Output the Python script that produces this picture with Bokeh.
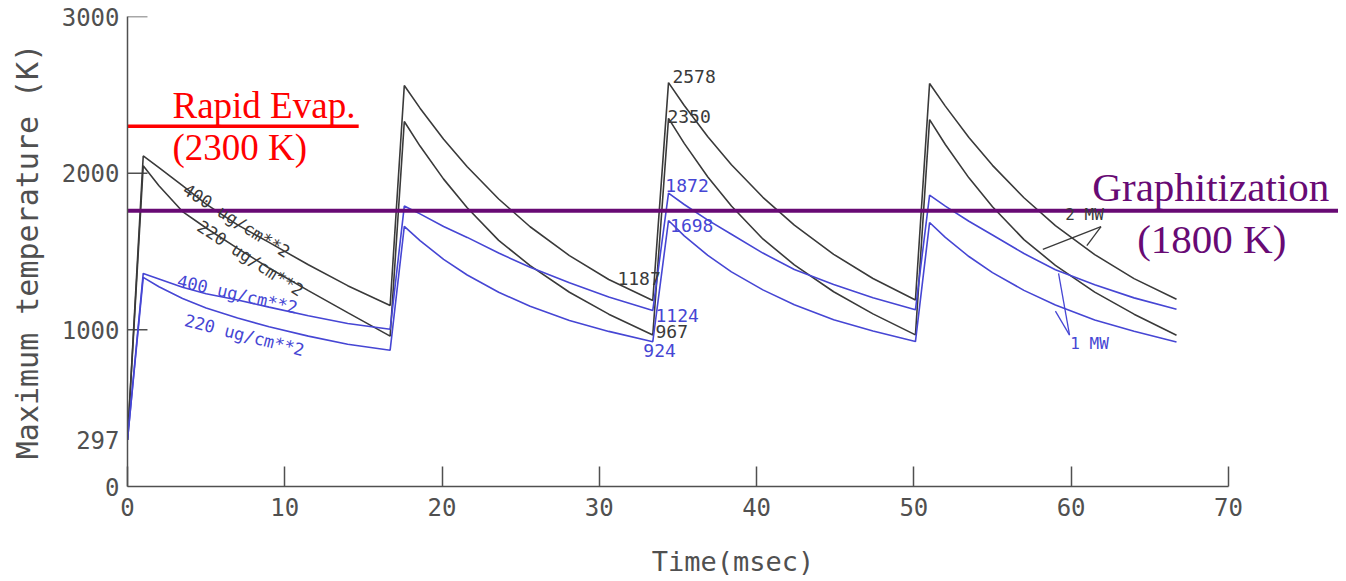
from bokeh.plotting import figure
from bokeh.models import Range1d, FixedTicker
from bokeh.core.properties import value
from bokeh.embed import file_html
from bokeh.resources import INLINE

# ---------------- data ----------------
time_ms = [0.0, 1.0, 2.0, 3.5, 5.0, 7.0, 9.0, 11.5, 14.0, 16.7,
           17.6, 18.6, 20.1, 21.6, 23.6, 25.6, 28.1, 30.6, 33.4,
           34.4, 35.4, 36.9, 38.4, 40.4, 42.4, 44.9, 47.4, 50.1,
           51.0, 52.0, 53.5, 55.0, 57.0, 59.0, 61.5, 64.0, 66.7]

# 2 MW pulses (black)
temp_2mw_400 = [297, 2110, 2035, 1920, 1802, 1670, 1558, 1415, 1282, 1155,
                2560, 2415, 2217, 2041, 1835, 1658, 1474, 1321, 1187,
                2578, 2432, 2232, 2054, 1846, 1668, 1482, 1328, 1190,
                2572, 2428, 2228, 2050, 1843, 1665, 1480, 1327, 1195]
temp_2mw_220 = [297, 2047, 1920, 1755, 1650, 1520, 1395, 1250, 1110, 960,
                2330, 2173, 1962, 1779, 1571, 1410, 1240, 1100, 967,
                2350, 2190, 1975, 1790, 1580, 1415, 1243, 1102, 968,
                2342, 2183, 1970, 1786, 1576, 1412, 1241, 1100, 966]
# 1 MW pulses (blue)
temp_1mw_400 = [297, 1360, 1325, 1272, 1230, 1190, 1145, 1090, 1040, 1004,
                1790, 1740, 1660, 1590, 1490, 1400, 1300, 1210, 1124,
                1872, 1800, 1700, 1610, 1490, 1385, 1290, 1205, 1128,
                1860, 1790, 1693, 1605, 1487, 1383, 1288, 1204, 1131]
temp_1mw_220 = [297, 1335, 1275, 1200, 1140, 1075, 1020, 960, 908, 870,
                1660, 1570, 1450, 1350, 1240, 1150, 1060, 990, 924,
                1698, 1600, 1475, 1370, 1255, 1160, 1065, 993, 925,
                1685, 1590, 1468, 1365, 1252, 1158, 1063, 991, 922]

x_ticks = [0, 10, 20, 30, 40, 50, 60, 70]
y_ticks = [0, 297, 1000, 2000, 3000]
y_tick_marks = [1000, 2000, 3000]   # ticks that carry a mark on the axis

evap_temp = 2300
evap_span = [0, 14.7]
graph_temp = 1760
graph_span = [0, 77]

peak_labels = ["2578", "2350", "1872", "1698"]
valley_labels = ["1187", "1124", "967", "924"]
curve_labels = ["400 ug/cm**2", "220 ug/cm**2", "400 ug/cm**2", "220 ug/cm**2"]
power_labels = ["2 MW", "1 MW"]

# leader lines for the power labels
lead_2mw_x = [[58.2, 61.9], [61.0, 61.9]]
lead_2mw_y = [[1513, 1659], [1538, 1659]]
lead_1mw_x = [[59.2, 59.9], [59.0, 59.9]]
lead_1mw_y = [[1360, 966], [1119, 966]]

# ---------------- styling ----------------
BLACK = "#3a3a3a"
BLUE = "#4646d4"
GRAY = "#505050"
RED = "#ff0000"
PURPLE = "#680a74"
MONO = value("DejaVu Sans Mono")
SERIF = value("Liberation Serif")
TICK_LEN = 1.27   # 20 px in x data units

p = figure(width=1338, height=579, output_backend="svg", toolbar_location=None,
           x_range=Range1d(0, 77), y_range=Range1d(0, 3000),
           min_border_left=127, min_border_right=0, min_border_top=16,
           min_border_bottom=91)
p.grid.visible = False
p.outline_line_color = None
p.background_fill_color = "white"

for ax in (p.xaxis[0], p.yaxis[0]):
    ax.axis_line_color = GRAY
    ax.axis_line_width = 1.5
    ax.major_tick_line_color = GRAY
    ax.major_tick_line_width = 1.5
    ax.major_tick_in = 20
    ax.major_tick_out = 0
    ax.minor_tick_line_color = None
    ax.major_label_text_font = "DejaVu Sans Mono"
    ax.major_label_text_font_size = "24px"
    ax.major_label_text_color = GRAY
    ax.axis_label_text_font = "DejaVu Sans Mono"
    ax.axis_label_text_font_style = "normal"
    ax.axis_label_text_color = GRAY

p.xaxis.ticker = FixedTicker(ticks=x_ticks)
p.xaxis.bounds = (0, 70)
p.xaxis.major_label_standoff = 11
p.xaxis.axis_label = "Time(msec)"
p.xaxis.axis_label_text_font_size = "27px"
p.xaxis.axis_label_standoff = 27

p.yaxis.ticker = FixedTicker(ticks=y_ticks)
p.yaxis.bounds = (0, 3000)
p.yaxis.major_tick_line_color = None
p.yaxis.major_label_standoff = 8
p.yaxis.axis_label = "Maximum temperature (K)"
p.yaxis.axis_label_text_font_size = "30px"
p.yaxis.axis_label_standoff = 14

# y tick marks (no mark at 297)
p.segment(x0=[0] * len(y_tick_marks), y0=y_tick_marks,
          x1=[TICK_LEN] * len(y_tick_marks), y1=y_tick_marks,
          line_color=GRAY, line_width=1.5)

# curves
p.line(time_ms, temp_2mw_400, line_color=BLACK, line_width=1.6)
p.line(time_ms, temp_2mw_220, line_color=BLACK, line_width=1.6)
p.line(time_ms, temp_1mw_400, line_color=BLUE, line_width=1.6)
p.line(time_ms, temp_1mw_220, line_color=BLUE, line_width=1.6)

# threshold lines
p.line(evap_span, [evap_temp, evap_temp], line_color=RED, line_width=3.5)
p.line(graph_span, [graph_temp, graph_temp], line_color=PURPLE, line_width=4)

p.text(x=[2.86, 2.86], y=[2435, 2162], text=["Rapid Evap.", f"({evap_temp} K)"],
       text_font=SERIF, text_font_size="37px", text_color=RED,
       text_align="left", text_baseline="alphabetic")
p.text(x=[61.35, 64.2], y=[1912, 1582], text=["Graphitization", "(1800 K)"],
       text_font=SERIF, text_font_size="41px", text_color=PURPLE,
       text_align="left", text_baseline="alphabetic")

# curve labels (rotated along curves)
p.text(x=[6.93, 7.82], y=[1697, 1456], text=curve_labels[:2], angle=[-0.564, -0.58],
       text_font=MONO, text_font_size="17px", text_color=BLACK,
       text_align="center", text_baseline="middle")
p.text(x=[6.99, 7.44], y=[1227, 966], text=curve_labels[2:], angle=[-0.222, -0.25],
       text_font=MONO, text_font_size="17px", text_color=BLUE,
       text_align="center", text_baseline="middle")

# peak / valley value labels
p.text(x=[34.65, 34.33], y=[2619, 2359], text=peak_labels[:2],
       text_font=MONO, text_font_size="18px", text_color=BLACK,
       text_align="left", text_baseline="middle")
p.text(x=[34.2, 34.5], y=[1920, 1666], text=peak_labels[2:],
       text_font=MONO, text_font_size="18px", text_color=BLUE,
       text_align="left", text_baseline="middle")
p.text(x=[31.15, 33.57], y=[1329, 992], text=[valley_labels[0], valley_labels[2]],
       text_font=MONO, text_font_size="18px", text_color=BLACK,
       text_align="left", text_baseline="middle")
p.text(x=[33.57, 32.8], y=[1093, 865], text=[valley_labels[1], valley_labels[3]],
       text_font=MONO, text_font_size="18px", text_color=BLUE,
       text_align="left", text_baseline="middle")

# power labels with leaders
p.multi_line(lead_2mw_x, lead_2mw_y, line_color=BLACK, line_width=1.3)
p.multi_line(lead_1mw_x, lead_1mw_y, line_color=BLUE, line_width=1.3)
p.text(x=[59.63], y=[1736], text=[power_labels[0]], text_font=MONO,
       text_font_size="16px", text_color=BLACK, text_align="left", text_baseline="middle")
p.text(x=[59.95], y=[915], text=[power_labels[1]], text_font=MONO,
       text_font_size="16px", text_color=BLUE, text_align="left", text_baseline="middle")

open("out.html", "w").write(file_html(p, INLINE))
